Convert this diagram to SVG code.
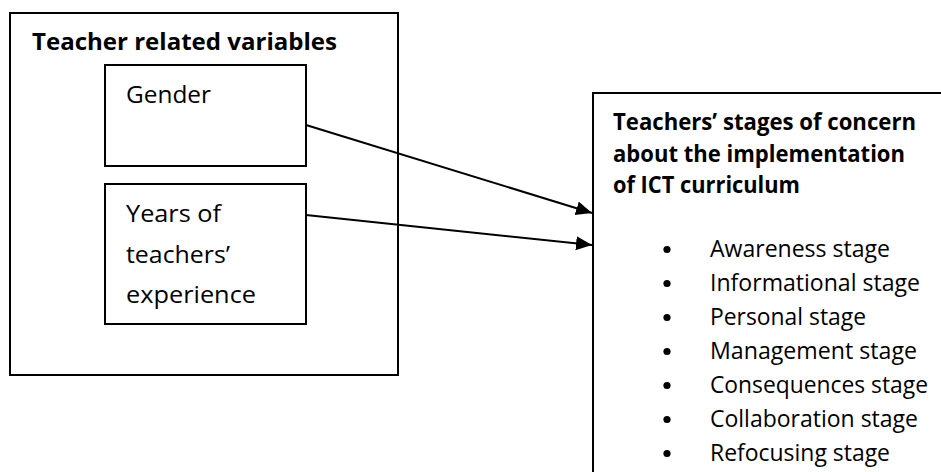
<svg xmlns="http://www.w3.org/2000/svg" width="941" height="472" viewBox="0 0 941 472">
<style>
.box{fill:none;stroke:#000;stroke-width:2}
.t{font-family:"Open Sans","Noto Sans","Liberation Sans",sans-serif;font-size:23px;fill:#000}
.b{font-weight:bold}
.dot{fill:#000}
.conn{stroke:#000;stroke-width:2;fill:none;marker-end:url(#arr)}
</style>
<defs>
<marker id="arr" markerUnits="userSpaceOnUse" markerWidth="17" markerHeight="15" refX="16" refY="7" orient="auto">
<path d="M0,0 L16,7 L0,14 z" fill="#000"/>
</marker>
</defs>
<rect width="941" height="472" fill="#fff"/>
<g id="teacher-variables">
<rect class="box" x="10" y="13" width="388" height="362"/>
<text class="t b" x="32" y="50" textLength="305" lengthAdjust="spacingAndGlyphs">Teacher related variables</text>
</g>
<g id="gender">
<rect class="box" x="105" y="65" width="201" height="101"/>
<text class="t" x="126" y="103" textLength="85" lengthAdjust="spacingAndGlyphs">Gender</text>
</g>
<g id="years">
<rect class="box" x="105" y="184" width="201" height="140"/>
<text class="t" x="126" y="222" textLength="95" lengthAdjust="spacingAndGlyphs">Years of</text>
<text class="t" x="126" y="263" textLength="104" lengthAdjust="spacingAndGlyphs">teachers’</text>
<text class="t" x="126" y="303" textLength="130" lengthAdjust="spacingAndGlyphs">experience</text>
</g>
<g id="stages">
<rect class="box" x="593" y="93" width="360" height="400"/>
<text class="t b" x="613" y="130" textLength="303" lengthAdjust="spacingAndGlyphs">Teachers’ stages of concern</text>
<text class="t b" x="613" y="162" textLength="292" lengthAdjust="spacingAndGlyphs">about the implementation</text>
<text class="t b" x="613" y="193" textLength="187" lengthAdjust="spacingAndGlyphs">of ICT curriculum</text>
<circle class="dot" cx="667" cy="249.5" r="3.6"/>
<text class="t" x="710" y="256.5" textLength="180" lengthAdjust="spacingAndGlyphs">Awareness stage</text>
<circle class="dot" cx="667" cy="283.5" r="3.6"/>
<text class="t" x="710" y="290.5" textLength="210" lengthAdjust="spacingAndGlyphs">Informational stage</text>
<circle class="dot" cx="667" cy="317.5" r="3.6"/>
<text class="t" x="710" y="324.5" textLength="156" lengthAdjust="spacingAndGlyphs">Personal stage</text>
<circle class="dot" cx="667" cy="351.5" r="3.6"/>
<text class="t" x="710" y="358.5" textLength="207" lengthAdjust="spacingAndGlyphs">Management stage</text>
<circle class="dot" cx="667" cy="385.5" r="3.6"/>
<text class="t" x="710" y="392.5" textLength="218" lengthAdjust="spacingAndGlyphs">Consequences stage</text>
<circle class="dot" cx="667" cy="419.5" r="3.6"/>
<text class="t" x="710" y="426.5" textLength="208" lengthAdjust="spacingAndGlyphs">Collaboration stage</text>
<circle class="dot" cx="667" cy="453.5" r="3.6"/>
<text class="t" x="710" y="460.5" textLength="180" lengthAdjust="spacingAndGlyphs">Refocusing stage</text>
</g>
<g id="connectors">
<line class="conn" x1="306" y1="125" x2="592" y2="213"/>
<line class="conn" x1="306" y1="215" x2="592" y2="245"/>
</g>
</svg>
